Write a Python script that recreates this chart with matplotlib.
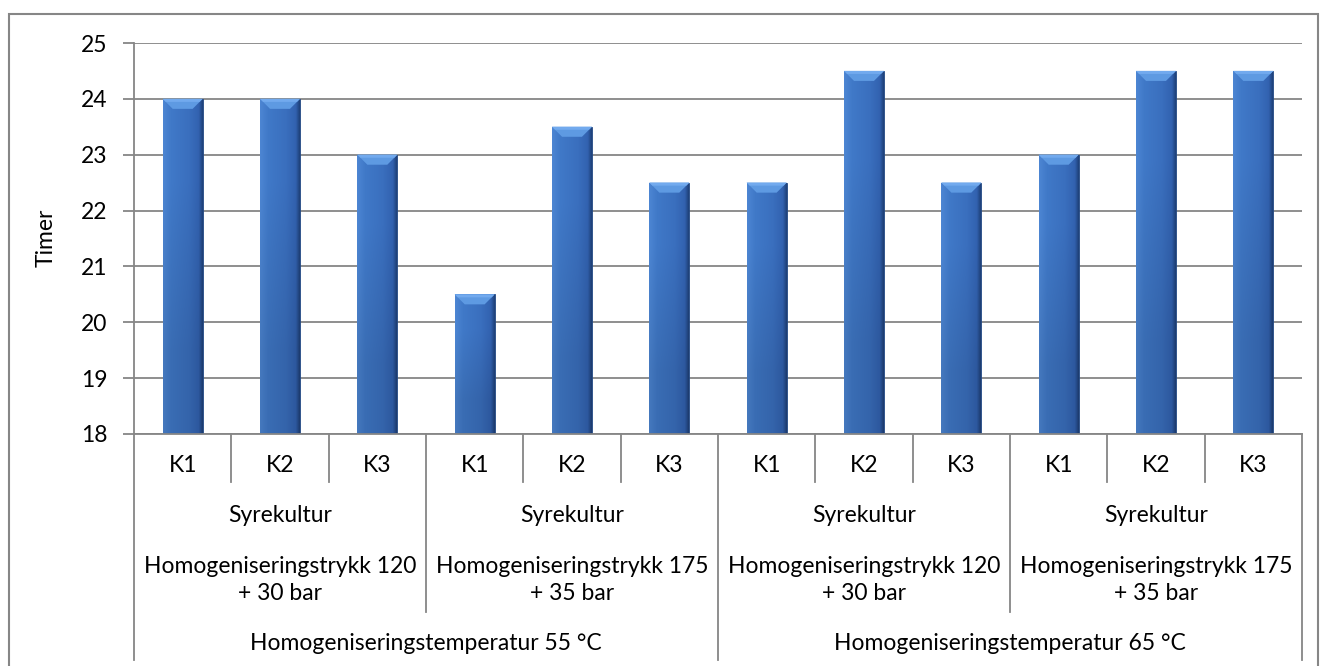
import numpy as np
import matplotlib
matplotlib.use("Agg")
import matplotlib.pyplot as plt
from matplotlib.patches import Rectangle, Polygon
from matplotlib.transforms import blended_transform_factory
from matplotlib.colors import to_rgb

plt.rcParams['font.family'] = ['Lato', 'DejaVu Sans']

# --- data ---
kulturer = ["K1", "K2", "K3"]
kultur_label = "Syrekultur"
trykk = ["Homogeniseringstrykk 120\n+ 30 bar", "Homogeniseringstrykk 175\n+ 35 bar"]
temperaturer = ["Homogeniseringstemperatur 55 °C", "Homogeniseringstemperatur 65 °C"]
timer = [24, 24, 23, 20.5, 23.5, 22.5, 22.5, 24.5, 22.5, 23, 24.5, 24.5]

W, H = 1320, 666
fig = plt.figure(figsize=(W / 100, H / 100), dpi=100)
ax = fig.add_axes([134 / W, 1 - 434 / H, (1302 - 134) / W, (434 - 43) / H])

grey = "#868686"
fs = 16.5
n = len(timer)
x = np.arange(n)
bw = 0.41
ymin, ymax = 18, 25

ax.set_xlim(-0.5, n - 0.5)
ax.set_ylim(ymin, ymax)
ax.set_yticks(range(ymin, ymax + 1))
ax.tick_params(axis='y', length=8, width=1.3, color=grey, labelsize=fs, pad=11)
ax.tick_params(axis='x', length=0, labelbottom=False)
for s in ["top", "right"]:
    ax.spines[s].set_visible(False)
for s in ["left", "bottom"]:
    ax.spines[s].set_color(grey)
    ax.spines[s].set_linewidth(1.3)
ax.yaxis.grid(True, color=grey, linewidth=1.3)
ax.set_axisbelow(True)

fy = lambda py: 1 - py / H
fig.text(46 / W, fy(238), "Timer", rotation=90, ha='center', va='center', fontsize=fs)

# pixel -> data scale for the bevel details
px_y = (ymax - ymin) / 391.0
px_x = n / (1302 - 134)

# horizontal shading across a bar (light left, dark right edge)
stops = [(0.0, "#4d86d3"), (0.2, "#4079c8"), (0.65, "#3a6fbe"), (0.9, "#3262b0"), (1.0, "#1f4179")]
cols = np.linspace(0, 1, 80)
grad = np.zeros((2, 80, 3))
for i, c in enumerate(cols):
    for (a, ca), (b, cb) in zip(stops[:-1], stops[1:]):
        if a <= c <= b:
            t = (c - a) / (b - a)
            grad[:, i] = (1 - t) * np.array(to_rgb(ca)) + t * np.array(to_rgb(cb))
            break
grad[1] *= 0.9  # slightly darker towards the base

bars = ax.bar(x, np.array(timer) - ymin, bottom=ymin, width=bw, color="#3a6fbe",
              edgecolor="#22467f", linewidth=0.6, zorder=2)
for b, v in zip(bars, timer):
    x0, x1 = b.get_x(), b.get_x() + b.get_width()
    im = ax.imshow(grad, extent=(x0, x1, ymin, v), aspect='auto', origin='upper',
                   zorder=2.1, interpolation='bilinear')
    im.set_clip_path(b)
    bh = 10 * px_y
    bx = 10 * px_x
    ax.add_patch(Polygon([(x0, v), (x1, v), (x1 - bx, v - bh), (x0 + bx, v - bh)],
                         closed=True, facecolor="#5e9ae2", edgecolor="none", zorder=2.2))
    ax.add_patch(Polygon([(x0, v), (x1, v), (x1 - bx * 0.3, v - bh * 0.3), (x0 + bx * 0.3, v - bh * 0.3)],
                         closed=True, facecolor="#72aaee", edgecolor="none", zorder=2.3))

# multi-level category axis
tr = blended_transform_factory(ax.transData, fig.transFigure)

def vline(xd, y0, y1):
    ax.plot([xd, xd], [fy(y0), fy(y1)], transform=tr, color=grey, lw=1.3, clip_on=False)

for i in range(n):
    ax.text(i, fy(466), kulturer[i % 3], transform=tr, ha='center', va='center', fontsize=fs)
for i in range(1, n):
    if i % 6 == 0:
        vline(i - 0.5, 434, 660)
    elif i % 3 == 0:
        vline(i - 0.5, 434, 612)
    else:
        vline(i - 0.5, 434, 482)
vline(-0.5, 434, 660)
vline(n - 0.5, 434, 660)

for g in range(4):
    c = g * 3 + 1
    ax.text(c, fy(516), kultur_label, transform=tr, ha='center', va='center', fontsize=fs)
    ax.text(c, fy(580), trykk[g % 2], transform=tr, ha='center', va='center', fontsize=fs,
            linespacing=1.35)
for t in range(2):
    ax.text(t * 6 + 2.5, fy(644), temperaturer[t], transform=tr, ha='center', va='center',
            fontsize=fs)

# chart border
fig.patches.append(Rectangle((9 / W, -0.01), (1318 - 9) / W, 0.01 + 1 - 14 / H,
                             transform=fig.transFigure, fill=False, edgecolor=grey, lw=1.5))

fig.savefig("out.png", dpi=100)
